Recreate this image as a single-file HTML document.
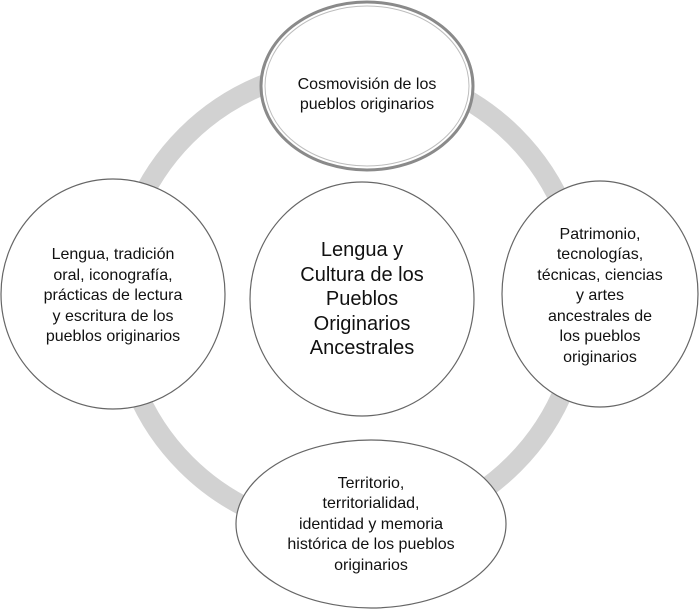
<!DOCTYPE html>
<html><head><meta charset="utf-8"><style>
html,body{margin:0;padding:0;background:#fff;}
svg{display:block;}
text{font-family:"Liberation Sans",sans-serif;fill:#111;text-anchor:middle;}
.s{font-size:16px;}
.c{font-size:20px;}
</style></head><body>
<svg width="700" height="610" viewBox="0 0 700 610">
<circle cx="350" cy="300" r="232" fill="none" stroke="#d2d2d2" stroke-width="20"/>
<ellipse cx="367" cy="86" rx="106" ry="84" fill="#fff" stroke="#8a8a8a" stroke-width="3"/>
<ellipse cx="367" cy="86" rx="102" ry="80" fill="none" stroke="#bdbdbd" stroke-width="1"/>
<ellipse cx="113" cy="294" rx="112" ry="115" fill="#fff" stroke="#666" stroke-width="1.2"/>
<ellipse cx="362" cy="299" rx="112" ry="117" fill="#fff" stroke="#666" stroke-width="1.2"/>
<ellipse cx="600" cy="294" rx="98" ry="113" fill="#fff" stroke="#666" stroke-width="1.2"/>
<ellipse cx="371" cy="524" rx="135" ry="84" fill="#fff" stroke="#666" stroke-width="1.2"/>
<text class="s" x="367" y="89">Cosmovisión de los</text>
<text class="s" x="367" y="109">pueblos originarios</text>
<text class="s" x="113" y="259">Lengua, tradición</text>
<text class="s" x="113" y="280">oral, iconografía,</text>
<text class="s" x="113" y="300">prácticas de lectura</text>
<text class="s" x="113" y="321">y escritura de los</text>
<text class="s" x="113" y="341">pueblos originarios</text>
<text class="c" x="362" y="256">Lengua y</text>
<text class="c" x="362" y="281">Cultura de los</text>
<text class="c" x="362" y="305">Pueblos</text>
<text class="c" x="362" y="330">Originarios</text>
<text class="c" x="362" y="354">Ancestrales</text>
<text class="s" x="600" y="239">Patrimonio,</text>
<text class="s" x="600" y="259">tecnologías,</text>
<text class="s" x="600" y="280">técnicas, ciencias</text>
<text class="s" x="600" y="300">y artes</text>
<text class="s" x="600" y="321">ancestrales de</text>
<text class="s" x="600" y="341">los pueblos</text>
<text class="s" x="600" y="362">originarios</text>
<text class="s" x="371" y="488">Territorio,</text>
<text class="s" x="371" y="508">territorialidad,</text>
<text class="s" x="371" y="529">identidad y memoria</text>
<text class="s" x="371" y="549">histórica de los pueblos</text>
<text class="s" x="371" y="570">originarios</text>
</svg>
</body></html>
